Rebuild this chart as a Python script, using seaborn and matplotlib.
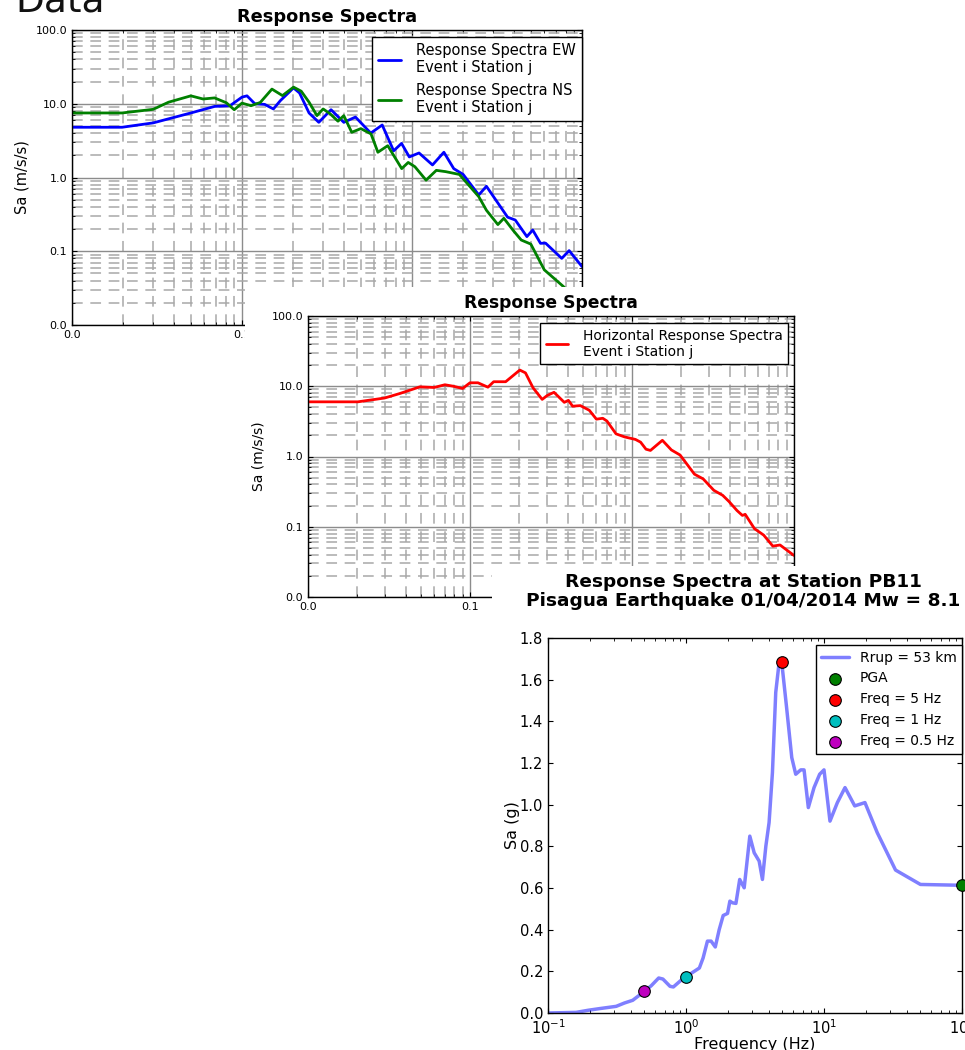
import numpy as np
import pandas as pd
import seaborn as sns
import matplotlib.pyplot as plt
from matplotlib.patches import Rectangle
from matplotlib.ticker import FormatStrFormatter, NullFormatter, MultipleLocator

### data: periods (s) and Sa (m/s/s)
ew_period = [0.01, 0.0197, 0.030, 0.050, 0.069, 0.085, 0.100, 0.107, 0.119, 0.136, 0.153, 0.168,
             0.201, 0.218, 0.248, 0.283, 0.334, 0.397, 0.465, 0.572, 0.668, 0.78, 0.868, 0.964,
             1.10, 1.32, 1.54, 1.76, 2.0, 2.47, 2.74, 3.65, 4.05, 4.74, 5.13, 5.7, 6.1, 7.6, 8.4, 10.0]
ew_sa = [4.8, 4.8, 5.5, 7.5, 9.2, 9.4, 12.3, 12.8, 10.0, 9.8, 8.5, 11.0,
         16.4, 14.0, 7.5, 5.6, 8.3, 5.6, 6.6, 4.0, 5.15, 2.3, 2.9, 1.9,
         2.15, 1.48, 2.2, 1.32, 1.1, 0.58, 0.76, 0.29, 0.265, 0.158, 0.194, 0.128, 0.129, 0.080, 0.102, 0.062]

ns_period = [0.01, 0.0197, 0.030, 0.037, 0.050, 0.059, 0.069, 0.081, 0.090, 0.100, 0.113, 0.128,
             0.150, 0.173, 0.201, 0.223, 0.248, 0.276, 0.30, 0.33, 0.367, 0.397, 0.442, 0.50,
             0.574, 0.63, 0.72, 0.87, 0.95, 1.04, 1.21, 1.39, 1.58, 1.9, 2.47, 2.74, 3.2, 3.47,
             3.95, 4.39, 5.0, 6.0, 7.8, 10.0]
ns_sa = [7.5, 7.5, 8.4, 10.5, 12.8, 11.6, 12.0, 10.3, 8.3, 10.2, 9.4, 10.4,
         15.8, 12.9, 16.8, 14.8, 10.5, 6.9, 8.5, 7.3, 5.8, 6.9, 4.1, 4.6,
         3.9, 2.2, 2.7, 1.32, 1.6, 1.4, 0.92, 1.25, 1.2, 1.1, 0.55, 0.36, 0.23, 0.28,
         0.19, 0.142, 0.125, 0.056, 0.033, 0.018]

hz_period = [0.01, 0.0203, 0.0297, 0.037, 0.049, 0.060, 0.070, 0.079, 0.090, 0.100, 0.112, 0.129,
             0.140, 0.166, 0.203, 0.220, 0.245, 0.279, 0.30, 0.33, 0.382, 0.405, 0.43, 0.48,
             0.545, 0.603, 0.66, 0.70, 0.797, 0.9, 1.05, 1.13, 1.22, 1.3, 1.54, 1.75, 1.98,
             2.43, 2.75, 3.2, 3.63, 3.96, 4.45, 4.8, 5.0, 5.7, 6.5, 7.4, 8.2, 10.0]
hz_sa = [6.0, 6.0, 6.8, 7.9, 9.8, 9.6, 10.5, 10.0, 9.3, 11.2, 11.2, 9.7,
         11.6, 11.6, 17.0, 15.5, 9.5, 6.5, 7.4, 8.2, 5.9, 6.3, 5.2, 5.3,
         4.55, 3.4, 3.5, 3.2, 2.1, 1.9, 1.75, 1.6, 1.27, 1.22, 1.7, 1.24, 1.05,
         0.56, 0.48, 0.33, 0.28, 0.23, 0.17, 0.145, 0.15, 0.094, 0.076, 0.053, 0.055, 0.039]

### data: frequency (Hz) and Sa (g), station PB11
freq = [0.1, 0.16, 0.195, 0.236, 0.312, 0.358, 0.411, 0.5, 0.56, 0.634, 0.68, 0.766, 0.81,
        0.92, 1.0, 1.1, 1.25, 1.33, 1.43, 1.52, 1.63, 1.74, 1.86, 2.0, 2.08, 2.17, 2.3,
        2.45, 2.64, 2.9, 3.12, 3.39, 3.58, 3.79, 4.0, 4.23, 4.47, 4.73, 4.94, 5.34, 5.84,
        6.24, 6.78, 7.17, 7.7, 8.47, 9.3, 10.0, 11.05, 12.5, 14.2, 16.7, 19.8, 24.3, 33.0,
        50.0, 100.0]
sa_g = [0.0, 0.003, 0.013, 0.021, 0.032, 0.048, 0.061, 0.104, 0.131, 0.168, 0.163, 0.128, 0.125,
        0.157, 0.173, 0.192, 0.216, 0.264, 0.345, 0.345, 0.317, 0.40, 0.468, 0.478, 0.537, 0.529, 0.526,
        0.641, 0.601, 0.849, 0.769, 0.729, 0.641, 0.801, 0.914, 1.154, 1.539, 1.683, 1.683, 1.475, 1.226,
        1.146, 1.167, 1.167, 0.986, 1.082, 1.146, 1.167, 0.921, 1.01, 1.082, 0.994, 1.01, 0.866, 0.686,
        0.617, 0.613]

pts_label = ['PGA', 'Freq = 5 Hz', 'Freq = 1 Hz', 'Freq = 0.5 Hz']
pts_freq = [100.0, 5.0, 1.0, 0.5]
pts_sa = [0.613, 1.686, 0.173, 0.105]
pts_color = ['g', 'r', 'c', 'm']


sns.set_style('ticks')
plt.rcParams['font.family'] = ['DejaVu Sans']
plt.rcParams['text.color'] = 'black'
plt.rcParams['axes.labelcolor'] = 'black'
plt.rcParams['xtick.color'] = 'black'
plt.rcParams['ytick.color'] = 'black'
plt.rcParams['xtick.direction'] = 'in'
plt.rcParams['ytick.direction'] = 'in'
plt.rcParams['xtick.top'] = True
plt.rcParams['ytick.right'] = True
plt.rcParams['axes.edgecolor'] = 'black'
plt.rcParams['axes.linewidth'] = 1.0

W, H = 965, 1050
fig = plt.figure(figsize = (W / 100, H / 100), dpi = 100)


def box(l, t, r, b):
  # pixel box (left, top, right, bottom) -> figure fraction rect
  return [l / W, 1 - b / H, (r - l) / W, (b - t) / H]


def cover(l, t, r, b, z):
  rect = Rectangle((l / W, 1 - b / H), (r - l) / W, (b - t) / H, transform = fig.transFigure,
                   facecolor = 'white', edgecolor = 'none', zorder = z)
  fig.add_artist(rect)


def spectra_axes(ax, title, fs, anchor):
  ax.set_xscale('log')
  ax.set_yscale('log')
  ax.set_xlim(0.01, 10)
  ax.set_ylim(0.01, 100)
  ax.grid(True, which = 'major', color = '#8c8c8c', ls = '-', lw = 1.0)
  ax.grid(True, which = 'minor', color = '#a8a8a8', ls = (0, (7, 5)), lw = 1.1)
  ax.xaxis.set_major_formatter(FormatStrFormatter('%.1f'))
  ax.yaxis.set_major_formatter(FormatStrFormatter('%.1f'))
  ax.xaxis.set_minor_formatter(NullFormatter())
  ax.yaxis.set_minor_formatter(NullFormatter())
  ax.tick_params(which = 'both', labelsize = 8)
  ax.set_title(title, fontsize = fs + 2.3, fontweight = 'bold')
  ax.set_ylabel('Sa (m/s/s)', fontsize = fs)
  ax.set_xlabel('')
  ax.legend(loc = 'upper right', bbox_to_anchor = anchor, borderaxespad = 0, fontsize = fs,
            fancybox = False, edgecolor = 'black', framealpha = 1,
            handlelength = 1.6, handletextpad = 1.05)


fig.text(15 / W, 1 - 11 / H, 'Data', fontsize = 27, va = 'baseline', color = '#111111')

### 1) EW / NS spectra
ax1 = fig.add_axes(box(72, 30, 582, 325))
ax1.set_zorder(1)
ax1.set_xscale('log')
ax1.set_yscale('log')
sns.lineplot(x = ew_period, y = ew_sa, ax = ax1, color = 'b', lw = 2, estimator = None,
             label = 'Response Spectra EW\nEvent i Station j')
sns.lineplot(x = ns_period, y = ns_sa, ax = ax1, color = 'g', lw = 2, estimator = None,
             label = 'Response Spectra NS\nEvent i Station j')
spectra_axes(ax1, 'Response Spectra', 10.5, (1.0, 1 - 7 / 295))

### 2) horizontal spectrum
cover(245, 287, 830, 625, 2)
ax2 = fig.add_axes(box(308, 316, 794, 597))
ax2.set_zorder(3)
ax2.set_xscale('log')
ax2.set_yscale('log')
sns.lineplot(x = hz_period, y = hz_sa, ax = ax2, color = 'r', lw = 2, estimator = None,
             label = 'Horizontal Response Spectra\nEvent i Station j')
spectra_axes(ax2, 'Response Spectra', 10, (1 - 6 / 486, 1 - 7 / 281))

### 3) station PB11
cover(492, 566, 965, 1050, 4)
ax3 = fig.add_axes(box(548, 638, 962, 1013))
ax3.set_zorder(5)
ax3.set_xscale('log')
sns.lineplot(x = freq, y = sa_g, ax = ax3, color = 'b', alpha = 0.5, lw = 2.5, estimator = None,
             label = 'Rrup = 53 km')
for f, s, c, lab in zip(pts_freq, pts_sa, pts_color, pts_label):
  sns.scatterplot(x = [f], y = [s], ax = ax3, color = c, edgecolor = 'black', linewidth = 0.8,
                  s = 70, label = lab, zorder = 5, clip_on = False)
ax3.set_xlim(0.1, 100)
ax3.set_ylim(0, 1.8)
ax3.yaxis.set_major_locator(MultipleLocator(0.2))
ax3.yaxis.set_major_formatter(FormatStrFormatter('%.1f'))
ax3.tick_params(which = 'both', labelsize = 10.5)
ax3.set_xlabel('Frequency (Hz)', fontsize = 11.5, labelpad = 0)
ax3.set_ylabel('Sa (g)', fontsize = 11.5, labelpad = 0)
ax3.set_title('Response Spectra at Station PB11\nPisagua Earthquake 01/04/2014 Mw = 8.1',
              fontsize = 13.3, fontweight = 'bold', pad = 23, linespacing = 1.1, x = 0.471)
ax3.legend(loc = 'upper right', bbox_to_anchor = (1.0, 1 - 7 / 375), borderaxespad = 0,
           fontsize = 10, fancybox = False, edgecolor = 'black', framealpha = 1,
           scatterpoints = 1, handletextpad = 0.75)

plt.savefig('out.png', dpi = 100)
